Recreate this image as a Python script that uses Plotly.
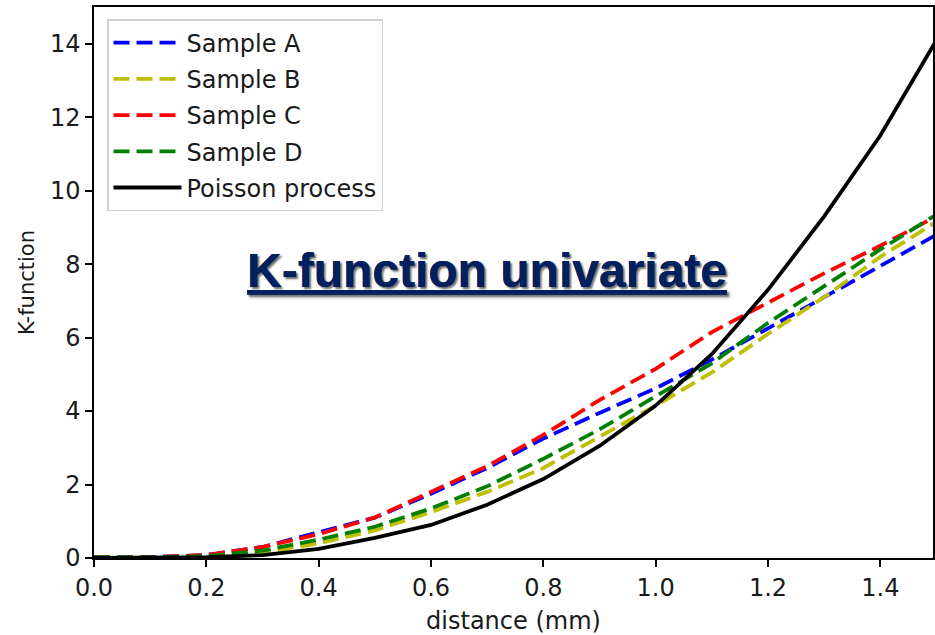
import plotly.graph_objects as go

distance = [0.0, 0.1, 0.2, 0.3, 0.4, 0.5, 0.6, 0.7, 0.8, 0.9, 1.0, 1.1, 1.2, 1.3, 1.4, 1.5]
sample_a = [0.02, 0.02, 0.08, 0.30, 0.70, 1.10, 1.75, 2.45, 3.25, 3.95, 4.62, 5.40, 6.25, 7.10, 7.95, 8.80]
sample_b = [0.02, 0.02, 0.05, 0.15, 0.40, 0.75, 1.25, 1.80, 2.45, 3.30, 4.15, 5.05, 6.10, 7.10, 8.20, 9.15]
sample_c = [0.02, 0.02, 0.08, 0.30, 0.65, 1.10, 1.80, 2.50, 3.35, 4.30, 5.15, 6.15, 6.95, 7.75, 8.50, 9.30]
sample_d = [0.02, 0.02, 0.05, 0.20, 0.50, 0.85, 1.35, 1.95, 2.70, 3.50, 4.40, 5.30, 6.40, 7.40, 8.40, 9.35]
poisson = [0.0, 0.0, 0.02, 0.08, 0.25, 0.55, 0.90, 1.45, 2.15, 3.05, 4.15, 5.55, 7.30, 9.30, 11.50, 14.10]

series = [
    ("Sample A", sample_a, "#0000ff", "16px,7px"),
    ("Sample B", sample_b, "#bfbf00", "16px,7px"),
    ("Sample C", sample_c, "#ff0000", "16px,7px"),
    ("Sample D", sample_d, "#008000", "16px,7px"),
    ("Poisson process", poisson, "#000000", "solid"),
]

fig = go.Figure()
for i, (name, vals, color, dash) in enumerate(series):
    fig.add_trace(go.Scatter(
        x=distance, y=vals, mode="lines", name=name,
        legendgroup=f"g{i}",
        line=dict(color=color, width=3.8, dash=dash),
    ))

axis_font = dict(family="DejaVu Sans", size=24, color="#1a1a1a")

fig.update_layout(
    width=935, height=635,
    margin=dict(l=94, r=0, t=7, b=77),
    paper_bgcolor="white", plot_bgcolor="white",
    showlegend=True,
    legend=dict(
        x=0.0155, y=0.978, xanchor="left", yanchor="top",
        bgcolor="rgba(255,255,255,0.85)", bordercolor="#d0d0d0", borderwidth=1.5,
        font=dict(family="DejaVu Sans", size=24, color="#1a1a1a"),
        tracegroupgap=2, itemwidth=68,
    ),
    xaxis=dict(
        range=[0, 1.4938], tickmode="array",
        tickvals=[0.0, 0.2, 0.4, 0.6, 0.8, 1.0, 1.2, 1.4],
        ticktext=["0.0", "0.2", "0.4", "0.6", "0.8", "1.0", "1.2", "1.4"],
        showgrid=False, zeroline=False,
        showline=True, linecolor="black", linewidth=1.5, mirror=True,
        ticks="outside", ticklen=7, tickwidth=1.5, tickcolor="black",
        tickfont=axis_font,
        title=dict(text="distance (mm)", font=dict(family="DejaVu Sans", size=24, color="#1a1a1a"), standoff=12),
    ),
    yaxis=dict(
        range=[0, 15], tickmode="array",
        tickvals=[0, 2, 4, 6, 8, 10, 12, 14],
        ticktext=["0", "2", "4", "6", "8", "10", "12", "14"],
        showgrid=False, zeroline=False,
        showline=True, linecolor="black", linewidth=1.5, mirror=True,
        ticks="outside", ticklen=7, tickwidth=1.5, tickcolor="black",
        tickfont=axis_font,
        title=dict(text="K-function", font=dict(family="DejaVu Sans", size=21, color="#1a1a1a"), standoff=10),
    ),
)

fig.add_annotation(
    x=0.468, y=0.522, xref="paper", yref="paper",
    text="K-function univariate", showarrow=False,
    font=dict(family="Liberation Sans", size=48, color="#002060", weight="bold",
              lineposition="under", shadow="2px 2px 2px rgba(0,0,0,0.35)"),
)

fig.write_html("out.html")
